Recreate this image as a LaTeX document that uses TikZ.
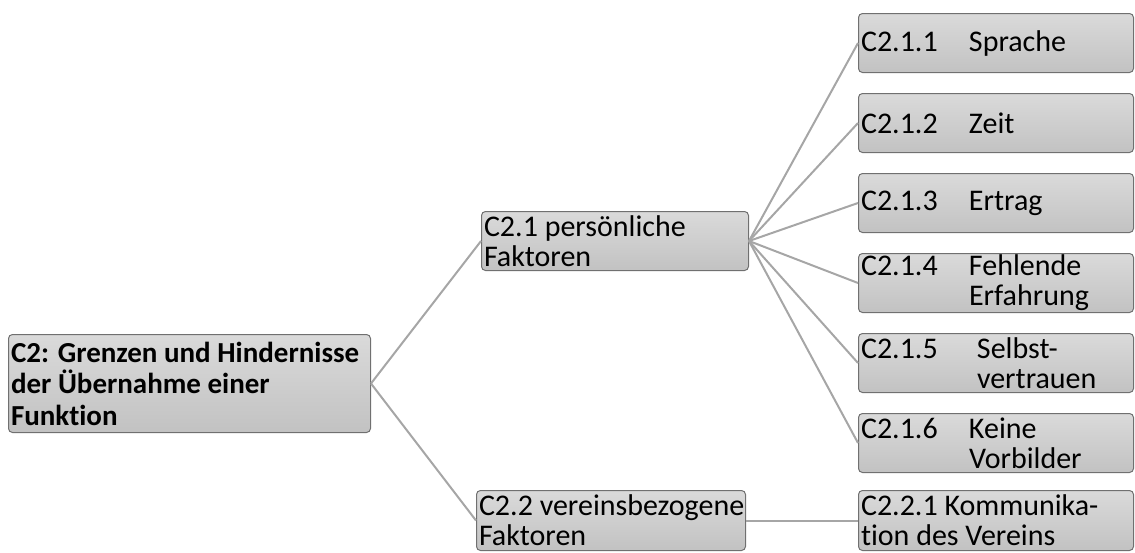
\documentclass[tikz,border=0pt]{standalone}
\usepackage{fontspec}
\setmainfont{Carlito}[Ligatures=NoCommon]
\usepackage{tikz}
\usetikzlibrary{positioning,calc}
\definecolor{hbedge}{HTML}{707070}
\definecolor{hbline}{HTML}{A6A6A6}
\definecolor{hbtop}{HTML}{DADADA}
\definecolor{hbbot}{HTML}{C2C2C2}
\tikzset{
 hb box/.style={draw=hbedge,line width=1pt,rounded corners=4pt,
   top color=hbtop,bottom color=hbbot,anchor=north west,
   inner xsep=2.5pt,inner ysep=0pt,align=flush left,
   font=\fontsize{30}{30}\selectfont},
 hb root/.style={hb box,font=\fontsize{29}{31.5}\selectfont\bfseries,
   text width=357pt,minimum height=98pt},
 hb mid/.style={hb box,minimum height=59pt},
 hb leaf/.style={hb box,text width=270pt,minimum height=59pt},
 hb link/.style={draw=hbline,line width=2pt}
}
\newcommand\hbnum[2][108pt]{\makebox[#1][l]{#2}}

\begin{document}
\begin{tikzpicture}[x=1pt,y=-1pt]
\useasboundingbox (0,0) rectangle (1135,552);
\node[hb root] (root) at (8,334) {\mbox{C2: Grenzen und Hindernisse}\\\mbox{der Übernahme einer}\\Funktion};
\node[hb mid,text width=262pt] (pers) at (481,211) {\mbox{C2.1 persönliche}\\Faktoren};
\node[hb mid,text width=264pt,minimum height=60pt] (verein) at (476,490) {\mbox{C2.2 vereinsbezogene}\\Faktoren};
\node[hb leaf] (sprache) at (858,13) {\hbnum{C2.1.1}Sprache};
\node[hb leaf] (zeit) at (858,93) {\hbnum{C2.1.2}Zeit};
\node[hb leaf] (ertrag) at (858,173) {\hbnum{C2.1.3}Ertrag};
\node[hb leaf] (erfahrung) at (858,253) {\hbnum{C2.1.4}Fehlende\\\hspace*{108pt}Erfahrung};
\node[hb leaf] (vertrauen) at (858,333) {\hbnum[116pt]{C2.1.5}Selbst-\\\hspace*{116pt}vertrauen};
\node[hb leaf] (vorbilder) at (858,413) {\hbnum{C2.1.6}Keine\\\hspace*{108pt}Vorbilder};
\node[hb leaf,minimum height=60pt] (kommunikation) at (858,490) {\mbox{C2.2.1 Kommunika-}\\\mbox{tion des Vereins}};
% connectors
\draw[hb link] (root.east)--(pers.west);
\draw[hb link] (root.east)--(verein.west);
\foreach \leaf in {sprache,zeit,ertrag,erfahrung,vertrauen,vorbilder}
  \draw[hb link] (pers.east)--(\leaf.west);
\draw[hb link] (verein.east)--(kommunikation.west);
\end{tikzpicture}
\end{document}
